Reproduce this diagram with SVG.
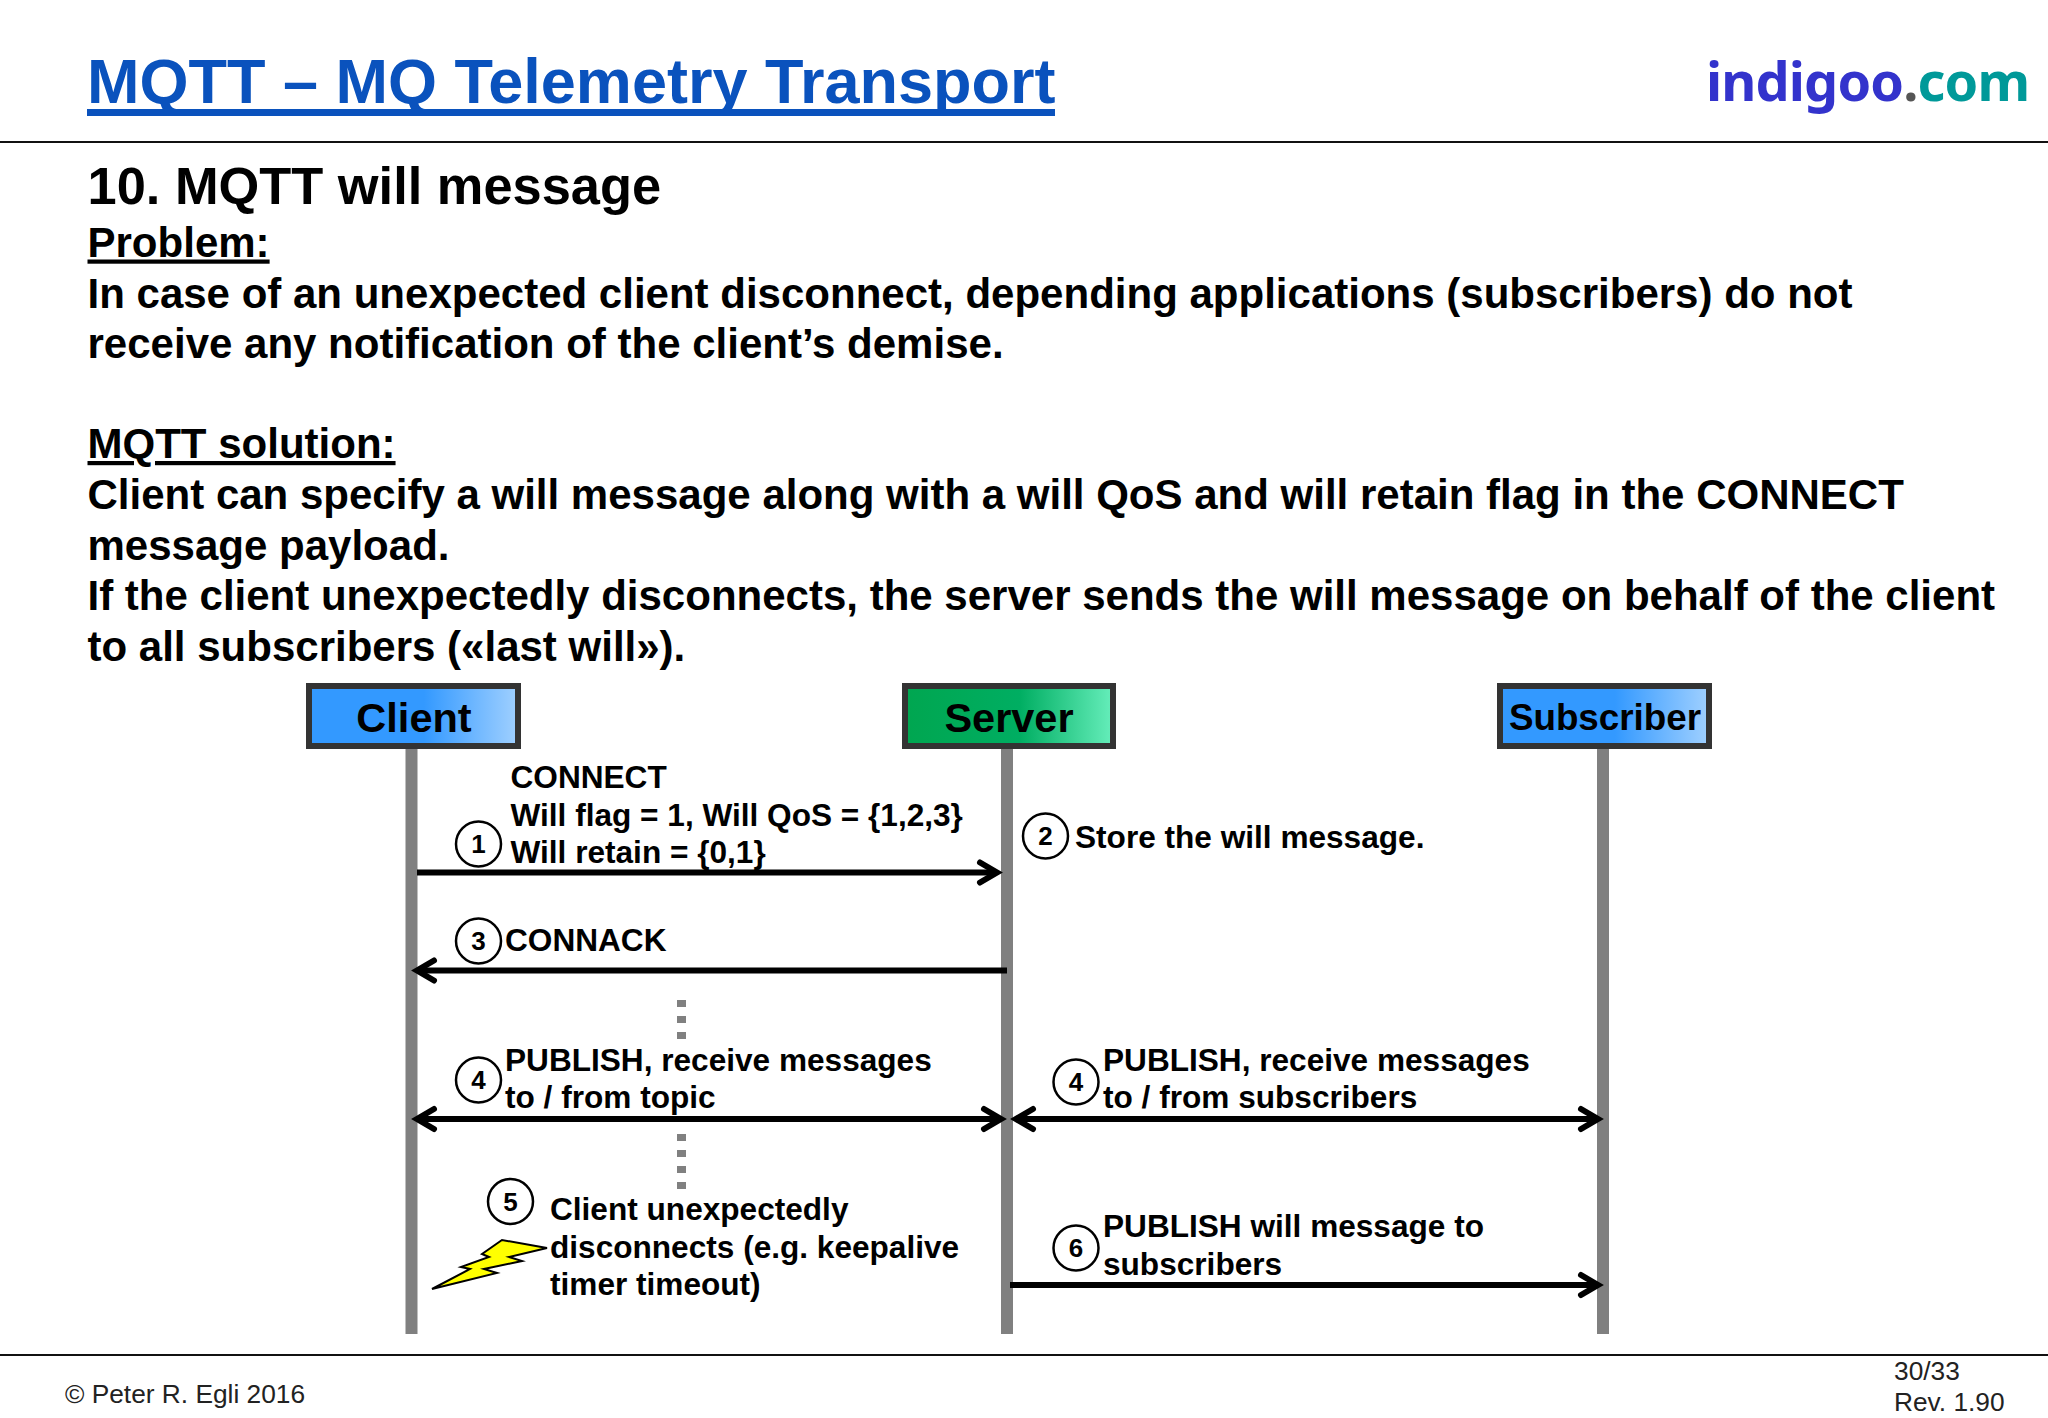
<svg xmlns="http://www.w3.org/2000/svg" width="2048" height="1418" viewBox="0 0 2048 1418">
<style>
text{font-family:"Liberation Sans",Arial,sans-serif;fill:#000}
.b{font-weight:bold}
.body{font-weight:bold;font-size:42.03px}
.lbl{font-weight:bold;font-size:31.6px}
.hd{font-weight:bold;font-size:41.5px;text-anchor:middle}
.num{font-weight:bold;font-size:26px;text-anchor:middle}
.foot{font-size:26.3px;fill:#222}
.c{fill:#fff;stroke:#000;stroke-width:2.5}
.life{fill:#808080}
.box{stroke:#333;stroke-width:6}
.a{fill:none;stroke:#000;stroke-width:6}
.d{fill:#808080}
</style>
<defs>
<linearGradient id="blue" x1="0" x2="1" y1="0" y2="0"><stop offset="0" stop-color="#3399ff"/><stop offset=".55" stop-color="#3399ff"/><stop offset="1" stop-color="#a0d0ff"/></linearGradient>
<linearGradient id="green" x1="0" x2="1" y1="0" y2="0"><stop offset="0" stop-color="#00a650"/><stop offset=".55" stop-color="#00ae62"/><stop offset="1" stop-color="#66eebb"/></linearGradient>
<marker id="ah" viewBox="-26 -16 36 32" refX="0" refY="0" markerWidth="36" markerHeight="32" markerUnits="userSpaceOnUse" orient="auto-start-reverse"><path d="M-17 -10L0 0L-17 10" fill="none" stroke="#000" stroke-width="6" stroke-linecap="round" stroke-linejoin="miter"/></marker>
</defs>
<rect width="2048" height="1418" fill="#fff"/>
<g id="header">
<text x="87" y="102.5" class="b" font-size="63" style="fill:#0a52bd">MQTT – MQ Telemetry Transport</text>
<rect x="87" y="109" width="968" height="7" fill="#0a52bd"/>
<text x="1706" y="101" font-size="54" letter-spacing="-0.85" style="font-family:'Noto Sans','Open Sans',sans-serif;font-weight:bold;fill:#3333cc">indigoo<tspan style="fill:#555">.</tspan><tspan style="fill:#009999">com</tspan></text>
<rect x="0" y="141" width="2048" height="2" fill="#111"/>
</g>
<g id="body">
<text x="87.5" y="204" class="b" font-size="52.4">10. MQTT will message</text>
<text x="87.5" y="256.5" class="body" text-decoration="underline">Problem:</text>
<text x="87.5" y="307.5" class="body">In case of an unexpected client disconnect, depending applications (subscribers) do not</text>
<text x="87.5" y="358" class="body">receive any notification of the client’s demise.</text>
<text x="87.5" y="458" class="body" text-decoration="underline">MQTT solution:</text>
<text x="87.5" y="509" class="body">Client can specify a will message along with a will QoS and will retain flag in the CONNECT</text>
<text x="87.5" y="559.5" class="body">message payload.</text>
<text x="87.5" y="609.5" class="body">If the client unexpectedly disconnects, the server sends the will message on behalf of the client</text>
<text x="87.5" y="660.5" class="body">to all subscribers («last will»).</text>
</g>
<g id="client">
<rect class="life" x="405.5" y="748" width="12" height="586"/>
<rect class="box" x="309" y="686" width="209" height="60" fill="url(#blue)"/>
<text class="hd" x="414" y="731.5">Client</text>
</g>
<g id="server">
<rect class="life" x="1001" y="748" width="12" height="586"/>
<rect class="box" x="905" y="686" width="208" height="60" fill="url(#green)"/>
<text class="hd" x="1009" y="731.5">Server</text>
</g>
<g id="subscriber">
<rect class="life" x="1597" y="748" width="12" height="586"/>
<rect class="box" x="1500" y="686" width="209" height="60" fill="url(#blue)"/>
<text class="hd" x="1605" y="730" style="font-size:36.8px">Subscriber</text>
</g>
<g id="connectors">
<path class="a" d="M417 872.5H997" marker-end="url(#ah)"/>
<path class="a" d="M1007 970.5H417" marker-end="url(#ah)"/>
<path class="a" d="M417 1119H1001" marker-start="url(#ah)" marker-end="url(#ah)"/>
<path class="a" d="M1016 1119H1598" marker-start="url(#ah)" marker-end="url(#ah)"/>
<path class="a" d="M1010 1285H1598" marker-end="url(#ah)"/>
</g>
<g id="dots">
<rect class="d" x="677" y="1000" width="9" height="7"/><rect class="d" x="677" y="1016" width="9" height="7"/><rect class="d" x="677" y="1032" width="9" height="7"/>
<rect class="d" x="677" y="1134" width="9" height="7"/><rect class="d" x="677" y="1150" width="9" height="7"/><rect class="d" x="677" y="1166" width="9" height="7"/><rect class="d" x="677" y="1182" width="9" height="7"/>
</g>
<g id="step1"><circle class="c" cx="478.5" cy="844" r="22.5"/><text class="num" x="478.5" y="853">1</text>
<text class="lbl" x="510.5" y="788">CONNECT</text><text class="lbl" x="510.5" y="825.5">Will flag = 1, Will QoS = {1,2,3}</text><text class="lbl" x="510.5" y="863">Will retain = {0,1}</text></g>
<g id="step2"><circle class="c" cx="1045.5" cy="836" r="22.5"/><text class="num" x="1045.5" y="845">2</text>
<text class="lbl" x="1075" y="848">Store the will message.</text></g>
<g id="step3"><circle class="c" cx="478.5" cy="941" r="22.5"/><text class="num" x="478.5" y="950">3</text>
<text class="lbl" x="505" y="951">CONNACK</text></g>
<g id="step4a"><circle class="c" cx="478.5" cy="1080" r="22.5"/><text class="num" x="478.5" y="1089">4</text>
<text class="lbl" x="505" y="1070.5">PUBLISH, receive messages</text><text class="lbl" x="505" y="1108">to / from topic</text></g>
<g id="step4b"><circle class="c" cx="1076" cy="1082" r="22.5"/><text class="num" x="1076" y="1091">4</text>
<text class="lbl" x="1103" y="1070.5">PUBLISH, receive messages</text><text class="lbl" x="1103" y="1108">to / from subscribers</text></g>
<g id="step5"><circle class="c" cx="510.5" cy="1201.5" r="22.5"/><text class="num" x="510.5" y="1210.5">5</text>
<text class="lbl" x="550" y="1219.5">Client unexpectedly</text><text class="lbl" x="550" y="1257.5">disconnects (e.g. keepalive</text><text class="lbl" x="550" y="1295">timer timeout)</text>
<path d="M547 1248L502 1240L482 1254L489 1257L461 1267L470 1269L432 1289L497 1273L484 1269L522 1261L509 1257Z" fill="#ffff00" stroke="#000" stroke-width="2"/></g>
<g id="step6"><circle class="c" cx="1076" cy="1248" r="22.5"/><text class="num" x="1076" y="1257">6</text>
<text class="lbl" x="1103" y="1236.5">PUBLISH will message to</text><text class="lbl" x="1103" y="1274.5">subscribers</text></g>
<g id="footer">
<rect x="0" y="1354" width="2048" height="2" fill="#111"/>
<text class="foot" x="65" y="1403">© Peter R. Egli 2016</text>
<text class="foot" x="1894" y="1380">30/33</text>
<text class="foot" x="1894" y="1411">Rev. 1.90</text>
</g>
</svg>
